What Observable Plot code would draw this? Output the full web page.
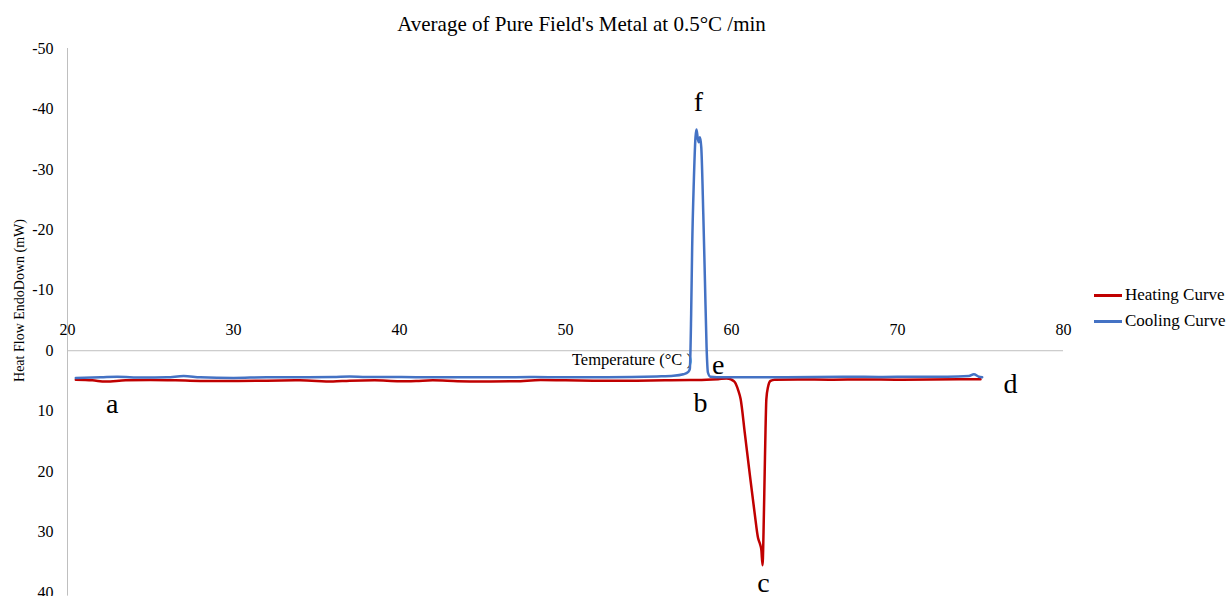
<!DOCTYPE html>
<html>
<head>
<meta charset="utf-8">
<script src="https://cdn.jsdelivr.net/npm/d3@7"></script>
<script src="https://cdn.jsdelivr.net/npm/@observablehq/plot@0.6"></script>
<style>
  body { margin: 0; background: #fff; }
  #wrap { position: relative; width: 1227px; height: 596px; font-family: "Liberation Serif", serif; }
  #legend { position: absolute; left: 1094px; top: 282px; font-size: 17px; color: #000; }
  .item { display: flex; align-items: center; height: 26px; }
  .sw { width: 28px; height: 3px; margin-right: 3px; }
</style>
</head>
<body>
<div id="wrap"><div id="legend"></div></div>
<script>
const title = "Average of Pure Field's Metal at 0.5°C /min";
const xLabel = "Temperature (°C )";
const yLabel = "Heat Flow EndoDown (mW)";
const seriesNames = ["Heating Curve", "Cooling Curve"];
const seriesColors = ["#C00000", "#4472C4"];
const xTicks = [20, 30, 40, 50, 60, 70, 80];
const yTicks = [-50, -40, -30, -20, -10, 0, 10, 20, 30, 40];

const heatT  = [20.5, 21.5, 22.3, 23.5, 25, 26.5, 28, 30, 32, 34, 36, 37, 38.5, 40, 41, 42, 43.5, 45, 47, 48.5, 50, 52, 54, 56, 57.5, 58.5, 59.2, 59.7, 60.0, 60.2, 60.4, 60.55, 60.8, 61.1, 61.4, 61.6, 61.72, 61.8, 61.87, 61.93, 62.0, 62.05, 62.1, 62.2, 62.35, 62.6, 64, 66, 68, 70, 72, 74, 75];
const heatHF = [4.8, 4.9, 5.1, 4.9, 4.85, 4.9, 5.0, 5.0, 4.95, 4.9, 5.1, 4.95, 4.9, 5.05, 5.0, 4.9, 5.05, 5.1, 5.05, 4.85, 4.9, 4.95, 4.95, 4.9, 4.85, 4.8, 4.7, 4.6, 4.8, 5.2, 6.5, 8.0, 13.6, 20.4, 27, 31, 32, 33, 35.5, 30, 20, 13, 8, 6, 5.0, 4.8, 4.75, 4.8, 4.75, 4.8, 4.75, 4.7, 4.7];

const coolT  = [20.5, 22, 23, 24.5, 26, 27, 28, 30, 32, 34, 36, 37, 38, 40, 42, 44, 46, 48, 50, 52, 54, 55.5, 56.5, 57.1, 57.4, 57.49, 57.57, 57.63, 57.73, 57.83, 57.89, 57.97, 58.03, 58.1, 58.18, 58.3, 58.4, 58.5, 58.58, 58.73, 59.5, 61, 63, 65, 67, 69, 71, 73, 74.3, 74.6, 74.9, 75.1];
const coolHF = [4.5, 4.4, 4.3, 4.45, 4.4, 4.2, 4.4, 4.5, 4.4, 4.4, 4.35, 4.25, 4.35, 4.35, 4.4, 4.4, 4.4, 4.35, 4.4, 4.4, 4.35, 4.25, 4.15, 3.9, 3.5, 3.0, -6.1, -17, -28, -35.3, -36.6, -35.1, -34.5, -35.3, -33.6, -22.7, -11.6, -0.5, 3.6, 4.3, 4.4, 4.4, 4.4, 4.35, 4.3, 4.35, 4.3, 4.3, 4.2, 3.9, 4.3, 4.4];

const pointLabels = ["a", "b", "c", "d", "e", "f"];
const pointLabelT = [22.7, 58.13, 61.93, 76.8, 59.2, 58.0];
const pointLabelHF = [8.8, 8.6, 38.4, 5.5, 2.3, -41.2];

const heat = heatT.map((t, i) => ({t, hf: heatHF[i]}));
const cool = coolT.map((t, i) => ({t, hf: coolHF[i]}));
const labels = pointLabels.map((s, i) => ({s, t: pointLabelT[i], hf: pointLabelHF[i]}));

const font = "Liberation Serif";
const chart = Plot.plot({
  width: 1227,
  height: 596,
  marginLeft: 67,
  marginRight: 164,
  marginTop: 48,
  marginBottom: 4,
  style: {fontFamily: font, fontSize: "16px", color: "#000", background: "#fff", overflow: "visible"},
  x: {domain: [20, 80], axis: null},
  y: {domain: [40, -50]},
  marks: [
    Plot.ruleX([20], {stroke: "#bfbfbf", strokeWidth: 1, y1: -50, y2: 40.6}),
    Plot.ruleY([0], {stroke: "#bfbfbf", strokeWidth: 1}),
    Plot.axisY({ticks: yTicks, tickFormat: d => String(d), tickSize: 0, tickPadding: 14, label: null, fontSize: 16, fill: "#000"}),
    Plot.text(xTicks, {x: d => d, y: 0, dy: -21, fontSize: 16, fill: "#000"}),
    Plot.text([xLabel], {x: 54, y: 0, dy: 9, fontSize: 16.5, fill: "#000"}),
    Plot.text([yLabel], {frameAnchor: "left", textAnchor: "middle", rotate: -90, dx: -48, dy: -20, fontSize: 14, fill: "#000"}),
    Plot.text([title], {frameAnchor: "top", lineAnchor: "middle", dx: 16, dy: -24, fontSize: 21, fill: "#000"}),
    Plot.line(heat, {x: "t", y: "hf", stroke: seriesColors[0], strokeWidth: 2.5, curve: "monotone-x"}),
    Plot.line(cool, {x: "t", y: "hf", stroke: seriesColors[1], strokeWidth: 2.5, curve: "monotone-x"}),
    Plot.text(labels, {x: "t", y: "hf", text: "s", fontSize: 28, fill: "#000", lineAnchor: "middle"})
  ]
});
const wrap = document.getElementById("wrap");
wrap.insertBefore(chart, wrap.firstChild);
const legend = document.getElementById("legend");
seriesNames.forEach((n, i) => {
  const it = document.createElement("div");
  it.className = "item";
  it.innerHTML = `<span class="sw" style="background:${seriesColors[i]}"></span><span>${n}</span>`;
  legend.appendChild(it);
});
</script>
</body>
</html>
